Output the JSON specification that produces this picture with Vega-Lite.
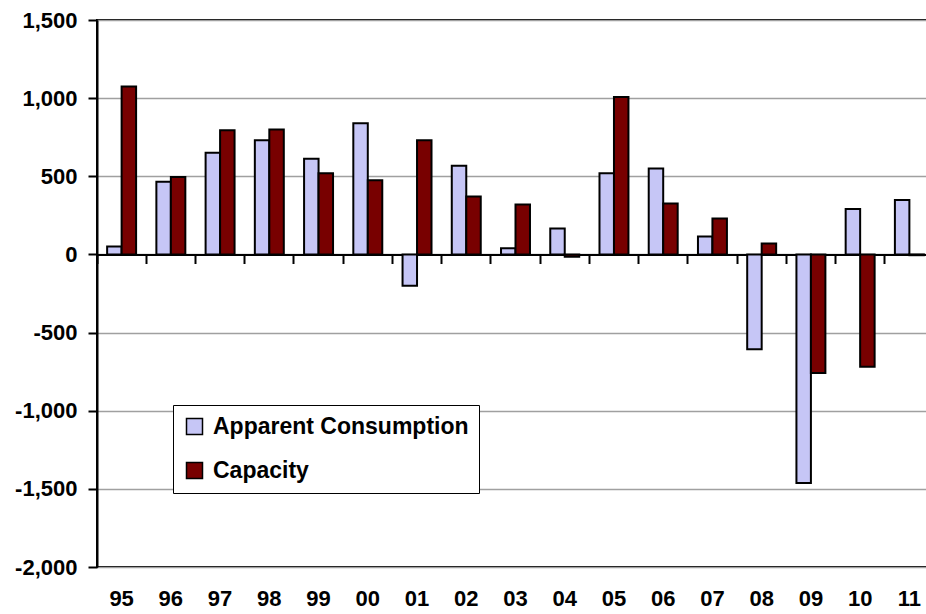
{
  "$schema": "https://vega.github.io/schema/vega-lite/v6.json",
  "width": 837,
  "height": 547,
  "autosize": {"type": "none"},
  "padding": {"left": 97, "top": 20, "right": 0, "bottom": 47},
  "background": "white",
  "config": {"view": {"stroke": "black", "strokeWidth": 2}, "font": "Liberation Sans"},
  "data": {"values": [
    {"year": "95", "series": "Apparent Consumption", "value": 50},
    {"year": "95", "series": "Capacity", "value": 1075},
    {"year": "96", "series": "Apparent Consumption", "value": 465},
    {"year": "96", "series": "Capacity", "value": 495},
    {"year": "97", "series": "Apparent Consumption", "value": 650},
    {"year": "97", "series": "Capacity", "value": 795},
    {"year": "98", "series": "Apparent Consumption", "value": 730},
    {"year": "98", "series": "Capacity", "value": 800},
    {"year": "99", "series": "Apparent Consumption", "value": 612},
    {"year": "99", "series": "Capacity", "value": 520},
    {"year": "00", "series": "Apparent Consumption", "value": 840},
    {"year": "00", "series": "Capacity", "value": 475},
    {"year": "01", "series": "Apparent Consumption", "value": -200},
    {"year": "01", "series": "Capacity", "value": 730},
    {"year": "02", "series": "Apparent Consumption", "value": 567},
    {"year": "02", "series": "Capacity", "value": 370},
    {"year": "03", "series": "Apparent Consumption", "value": 40},
    {"year": "03", "series": "Capacity", "value": 320},
    {"year": "04", "series": "Apparent Consumption", "value": 166},
    {"year": "04", "series": "Capacity", "value": -15},
    {"year": "05", "series": "Apparent Consumption", "value": 520},
    {"year": "05", "series": "Capacity", "value": 1007},
    {"year": "06", "series": "Apparent Consumption", "value": 550},
    {"year": "06", "series": "Capacity", "value": 326},
    {"year": "07", "series": "Apparent Consumption", "value": 115},
    {"year": "07", "series": "Capacity", "value": 230},
    {"year": "08", "series": "Apparent Consumption", "value": -606},
    {"year": "08", "series": "Capacity", "value": 70},
    {"year": "09", "series": "Apparent Consumption", "value": -1462},
    {"year": "09", "series": "Capacity", "value": -758},
    {"year": "10", "series": "Apparent Consumption", "value": 290},
    {"year": "10", "series": "Capacity", "value": -719},
    {"year": "11", "series": "Apparent Consumption", "value": 348},
    {"year": "11", "series": "Capacity", "value": -5}
  ]},
  "layer": [
    {
      "mark": {"type": "bar", "stroke": "black", "strokeWidth": 2},
      "encoding": {
        "x": {
          "field": "year", "type": "ordinal", "sort": null,
          "scale": {"paddingInner": 0, "paddingOuter": 0},
          "axis": {"title": null, "domain": false, "ticks": false, "grid": false, "labelAngle": 0,
                   "labelFont": "Liberation Sans", "labelFontSize": 22, "labelFontWeight": "bold",
                   "labelColor": "black", "labelPadding": 21}
        },
        "xOffset": {
          "field": "series", "type": "nominal",
          "sort": ["Apparent Consumption", "Capacity"],
          "scale": {"paddingInner": 0, "paddingOuter": 0.7}
        },
        "y": {
          "field": "value", "type": "quantitative",
          "scale": {"domain": [-2000, 1500], "nice": false, "zero": false},
          "axis": {"title": null, "values": [-2000, -1500, -1000, -500, 0, 500, 1000, 1500], "format": ",d",
                   "labelExpr": "replace(datum.label, '\u2212', '-')",
                   "domainColor": "black", "domainWidth": 2, "tickColor": "black", "tickWidth": 2, "tickSize": 9,
                   "labelFont": "Liberation Sans", "labelFontSize": 22, "labelFontWeight": "bold",
                   "labelColor": "black", "labelPadding": 11, "gridColor": "#a0a0a0", "gridWidth": 1.5}
        },
        "color": {
          "field": "series", "type": "nominal",
          "scale": {"domain": ["Apparent Consumption", "Capacity"], "range": ["#c6c6f6", "#780000"]},
          "legend": {"title": null, "orient": "none", "legendX": 76, "legendY": 385, "direction": "vertical",
                     "strokeColor": "black", "fillColor": "white", "padding": 10,
                     "symbolType": "square", "symbolSize": 256, "symbolStrokeColor": "black",
                     "symbolStrokeWidth": 1.5, "symbolOpacity": 1,
                     "labelFont": "Liberation Sans", "labelFontSize": 23, "labelFontWeight": "bold",
                     "labelColor": "black", "labelOffset": 7, "rowPadding": 20, "labelLimit": 400,
                     "encoding": {"legend": {"update": {"strokeWidth": {"value": 2}}}}}
        }
      }
    },
    {
      "mark": {"type": "bar", "opacity": 0},
      "encoding": {
        "x": {
          "field": "year", "type": "ordinal", "sort": null,
          "axis": {"title": null, "labels": false, "domain": true, "domainColor": "black", "domainWidth": 2,
                   "ticks": true, "tickColor": "black", "tickWidth": 2, "tickSize": 9, "bandPosition": 0,
                   "offset": -312.5, "grid": false, "orient": "bottom"}
        }
      }
    }
  ],
  "resolve": {"axis": {"x": "independent"}}
}
